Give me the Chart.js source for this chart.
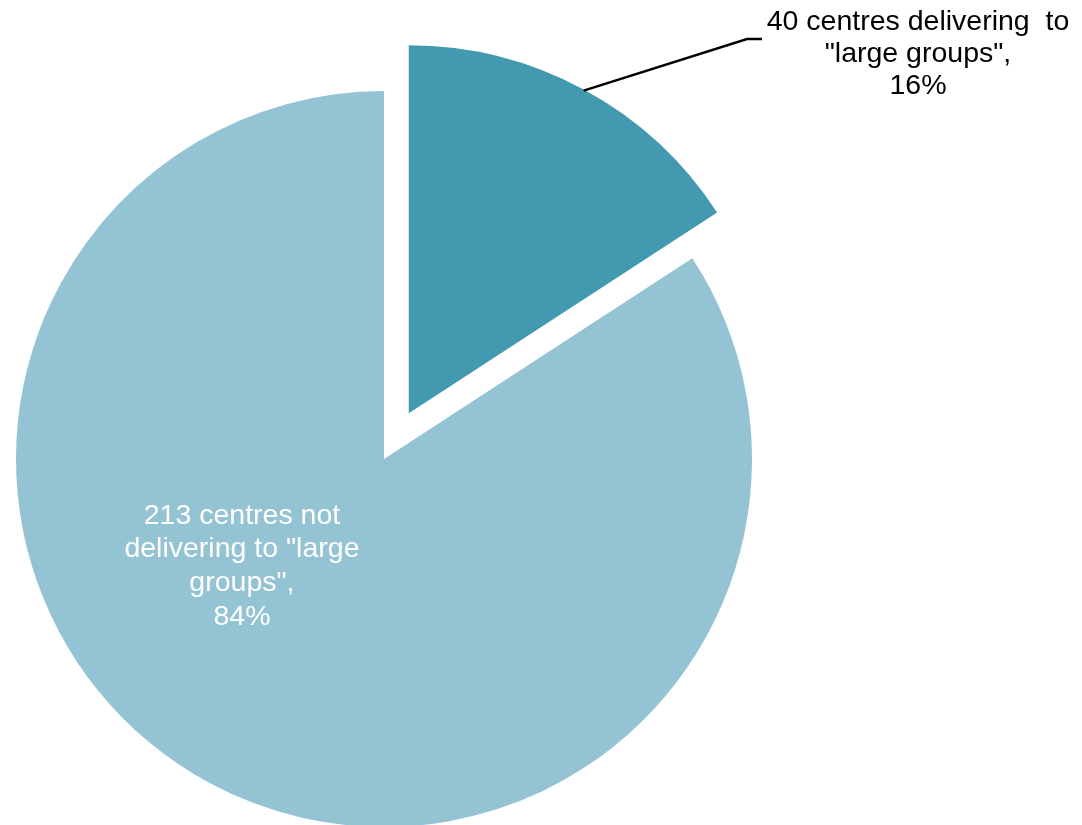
<!DOCTYPE html>
<html>
<head>
<meta charset="utf-8">
<script src="https://cdn.jsdelivr.net/npm/chart.js@4/dist/chart.umd.min.js"></script>
<style>
html,body{margin:0;padding:0;background:#fff;overflow:hidden;}
canvas{display:block;}
</style>
</head>
<body>
<canvas id="c" width="1082" height="825"></canvas>
<script>
// ---- data ----
const categories = ['centres delivering to "large groups"', 'centres not delivering to "large groups"'];
const counts = [40, 213];
const total = counts.reduce((a, b) => a + b, 0);
const percents = counts.map(v => Math.round(v / total * 100));

// ---- label text (line breaks as in the reference) ----
const outerLabelLines = [counts[0] + ' centres delivering  to', '"large groups",', percents[0] + '%'];
const innerLabelLines = [counts[1] + ' centres not', 'delivering to "large', 'groups",', percents[1] + '%'];

// ---- styles ----
const sliceColors = ['#4399B0', '#94C3D4'];
const explode = [52, 0];
const FONT = '28.5px "Liberation Sans", Arial, sans-serif';

const explodePlugin = {
  id: 'explodeSlices',
  beforeDatasetDraw(chart, args) {
    const ctx = chart.ctx;
    args.meta.data.forEach((arc, i) => {
      const d = explode[i] || 0;
      const mid = (arc.startAngle + arc.endAngle) / 2;
      ctx.save();
      ctx.translate(Math.cos(mid) * d, Math.sin(mid) * d);
      arc.draw(ctx);
      ctx.restore();
    });
    return false;
  }
};

const labelPlugin = {
  id: 'sliceLabels',
  afterDraw(chart) {
    const ctx = chart.ctx;
    const arcs = chart.getDatasetMeta(0).data;
    ctx.save();
    ctx.font = FONT;
    ctx.textAlign = 'center';
    ctx.textBaseline = 'alphabetic';

    // outside label with leader line for the exploded slice
    const a0 = arcs[0];
    const mid0 = (a0.startAngle + a0.endAngle) / 2;
    const cx0 = a0.x + Math.cos(mid0) * explode[0];
    const cy0 = a0.y + Math.sin(mid0) * explode[0];
    const sx = cx0 + Math.cos(mid0) * (a0.outerRadius - 1);
    const sy = cy0 + Math.sin(mid0) * (a0.outerRadius - 1);
    ctx.strokeStyle = '#000';
    ctx.lineWidth = 2.4;
    ctx.beginPath();
    ctx.moveTo(sx, sy);
    ctx.lineTo(747, 39);
    ctx.lineTo(762, 39);
    ctx.stroke();
    ctx.fillStyle = '#000';
    outerLabelLines.forEach((t, k) => ctx.fillText(t, 918, 30 + k * 32));

    // inside label for the large slice
    const a1 = arcs[1];
    const lx = a1.x - 0.386 * a1.outerRadius;
    const ly = a1.y + 0.176 * a1.outerRadius;
    ctx.fillStyle = '#fff';
    innerLabelLines.forEach((t, k) => ctx.fillText(t, lx, ly + k * 33.7));
    ctx.restore();
  }
};

new Chart(document.getElementById('c'), {
  type: 'pie',
  data: {
    labels: categories,
    datasets: [{
      data: counts,
      backgroundColor: sliceColors,
      borderWidth: 0,
      radius: 368,
      rotation: 0,
      clip: false
    }]
  },
  options: {
    responsive: false,
    animation: false,
    layout: { padding: { top: 93, right: 314, bottom: 0, left: 0 } },
    plugins: {
      legend: { display: false },
      tooltip: { enabled: false }
    }
  },
  plugins: [explodePlugin, labelPlugin]
});
</script>
</body>
</html>
